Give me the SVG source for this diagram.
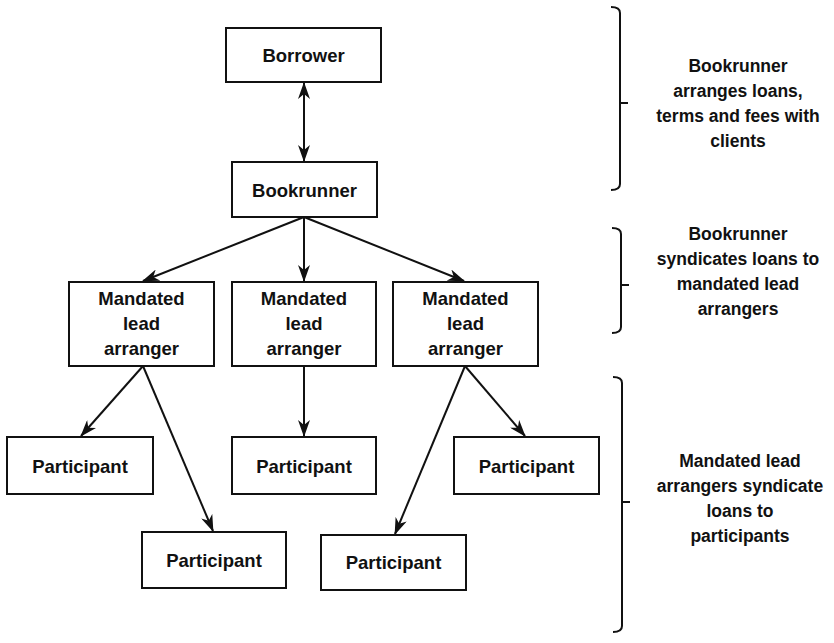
<svg xmlns="http://www.w3.org/2000/svg" width="834" height="643" viewBox="0 0 834 643">
  <style>
    .box { fill: #ffffff; stroke: #111111; stroke-width: 2; }
    .lbl { font-family: "Liberation Sans", Arial, sans-serif; font-weight: bold; font-size: 18.5px; fill: #111111; text-anchor: middle; }
    .side { font-family: "Liberation Sans", Arial, sans-serif; font-weight: bold; font-size: 17.5px; fill: #111111; text-anchor: middle; }
    .link { stroke: #111111; stroke-width: 2; fill: none; }
    .brace { stroke: #111111; stroke-width: 2; fill: none; }
  </style>
  <defs>
    <marker id="arrow" viewBox="0 0 17 12" refX="16" refY="6" markerWidth="17" markerHeight="12" markerUnits="userSpaceOnUse" orient="auto-start-reverse">
      <path d="M0,0 L17,6 L0,12 L5,6 z" fill="#111111"/>
    </marker>
  </defs>
  <rect width="834" height="643" fill="#ffffff"/>

  <!-- connectors -->
  <g id="connectors">
    <line class="link" x1="304" y1="83" x2="304" y2="161" marker-start="url(#arrow)" marker-end="url(#arrow)"/>
    <line class="link" x1="304" y1="217" x2="143" y2="281" marker-end="url(#arrow)"/>
    <line class="link" x1="304" y1="217" x2="304" y2="281" marker-end="url(#arrow)"/>
    <line class="link" x1="304" y1="217" x2="464" y2="281" marker-end="url(#arrow)"/>
    <line class="link" x1="143" y1="366" x2="81" y2="436" marker-end="url(#arrow)"/>
    <line class="link" x1="143" y1="366" x2="213" y2="531" marker-end="url(#arrow)"/>
    <line class="link" x1="304" y1="366" x2="304" y2="436" marker-end="url(#arrow)"/>
    <line class="link" x1="465" y1="366" x2="525" y2="436" marker-end="url(#arrow)"/>
    <line class="link" x1="465" y1="366" x2="395" y2="534" marker-end="url(#arrow)"/>
  </g>

  <!-- nodes -->
  <g id="borrower">
    <rect class="box" x="226" y="28" width="155" height="54"/>
    <text class="lbl" x="303.5" y="62">Borrower</text>
  </g>
  <g id="bookrunner">
    <rect class="box" x="232" y="162" width="145" height="55"/>
    <text class="lbl" x="304.5" y="197">Bookrunner</text>
  </g>
  <g id="mla-1">
    <rect class="box" x="69" y="282" width="145" height="84"/>
    <text class="lbl" x="141.5" y="305">Mandated</text>
    <text class="lbl" x="141.5" y="330">lead</text>
    <text class="lbl" x="141.5" y="355">arranger</text>
  </g>
  <g id="mla-2">
    <rect class="box" x="232" y="282" width="144" height="84"/>
    <text class="lbl" x="304" y="305">Mandated</text>
    <text class="lbl" x="304" y="330">lead</text>
    <text class="lbl" x="304" y="355">arranger</text>
  </g>
  <g id="mla-3">
    <rect class="box" x="393" y="282" width="145" height="84"/>
    <text class="lbl" x="465.5" y="305">Mandated</text>
    <text class="lbl" x="465.5" y="330">lead</text>
    <text class="lbl" x="465.5" y="355">arranger</text>
  </g>
  <g id="participant-1">
    <rect class="box" x="7" y="437" width="146" height="57"/>
    <text class="lbl" x="80" y="473">Participant</text>
  </g>
  <g id="participant-2">
    <rect class="box" x="142" y="532" width="144" height="56"/>
    <text class="lbl" x="214" y="567">Participant</text>
  </g>
  <g id="participant-3">
    <rect class="box" x="232" y="437" width="144" height="57"/>
    <text class="lbl" x="304" y="473">Participant</text>
  </g>
  <g id="participant-4">
    <rect class="box" x="321" y="535" width="145" height="55"/>
    <text class="lbl" x="393.5" y="569">Participant</text>
  </g>
  <g id="participant-5">
    <rect class="box" x="454" y="437" width="145" height="57"/>
    <text class="lbl" x="526.5" y="473">Participant</text>
  </g>

  <!-- stage braces and notes -->
  <g id="stage-1">
    <path class="brace" d="M611,7 Q620,7 620,13 L620,184 Q620,190 611,190 M620,103 L628,103"/>
    <text class="side" x="738" y="72">Bookrunner</text>
    <text class="side" x="738" y="97">arranges loans,</text>
    <text class="side" x="738" y="122">terms and fees with</text>
    <text class="side" x="738" y="147">clients</text>
  </g>
  <g id="stage-2">
    <path class="brace" d="M612,228 Q621,228 621,234 L621,327 Q621,333 612,333 M621,285 L629,285"/>
    <text class="side" x="738" y="240">Bookrunner</text>
    <text class="side" x="738" y="265">syndicates loans to</text>
    <text class="side" x="738" y="290">mandated lead</text>
    <text class="side" x="738" y="315">arrangers</text>
  </g>
  <g id="stage-3">
    <path class="brace" d="M613,377 Q622,377 622,383 L622,626 Q622,632 613,632 M622,502 L630,502"/>
    <text class="side" x="740" y="467">Mandated lead</text>
    <text class="side" x="740" y="492">arrangers syndicate</text>
    <text class="side" x="740" y="517">loans to</text>
    <text class="side" x="740" y="542">participants</text>
  </g>
</svg>
